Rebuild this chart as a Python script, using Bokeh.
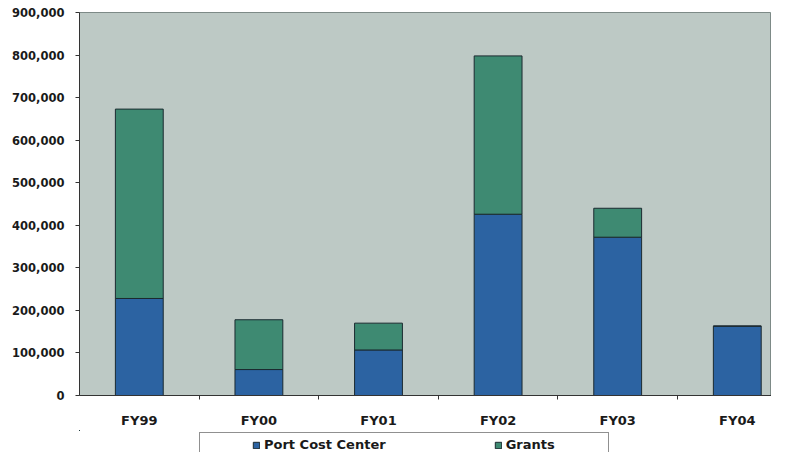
from bokeh.plotting import figure
from bokeh.layouts import column
from bokeh.models import (ColumnDataSource, FixedTicker, NumeralTickFormatter,
                          Legend, LegendItem, Range1d)
from bokeh.embed import file_html
from bokeh.resources import INLINE

years = ["FY99", "FY00", "FY01", "FY02", "FY03", "FY04"]
port_cost_center = [228000, 61000, 107000, 426000, 372000, 163000]
grants = [445000, 117000, 63000, 372000, 68000, 0]
series = ["Port Cost Center", "Grants"]
colors = ["#2c63a2", "#3e8a72"]
y_ticks = [0, 100000, 200000, 300000, 400000, 500000, 600000, 700000, 800000, 900000]

xpos = [i + 0.5 for i in range(len(years))]
source = ColumnDataSource(dict(x=xpos, years=years,
                               pcc=port_cost_center, grants=grants))

FONT = "DejaVu Sans"
TXT = "#1a1a1a"
EDGE = "#1b2a30"

p = figure(width=771, height=430, output_backend="svg", toolbar_location=None,
           x_range=Range1d(0, 5.786), y_range=Range1d(0, 900000),
           min_border_left=79, min_border_top=12, min_border_right=0,
           min_border_bottom=34)

rs = p.vbar_stack(["pcc", "grants"], x="x", width=0.4, source=source,
                  fill_color=colors, line_color=EDGE, line_width=1)

p.background_fill_color = "#bdc9c5"
p.border_fill_color = "white"
p.outline_line_color = "#7d8a87"
p.xgrid.visible = False
p.ygrid.visible = False

# y axis
p.yaxis.ticker = FixedTicker(ticks=y_ticks)
p.yaxis.formatter = NumeralTickFormatter(format="0,0")
p.yaxis.major_label_text_font = FONT
p.yaxis.major_label_text_font_style = "bold"
p.yaxis.major_label_text_font_size = "11.5px"
p.yaxis.major_label_text_color = TXT
p.yaxis.major_tick_in = 0
p.yaxis.major_tick_out = 4
p.yaxis.minor_tick_line_color = None
p.yaxis.major_label_standoff = 11
p.yaxis.axis_line_color = "#333333"
p.yaxis.major_tick_line_color = "#333333"

# x axis
p.xaxis.ticker = FixedTicker(ticks=xpos, minor_ticks=list(range(1, len(years))))
p.xaxis.major_label_overrides = {x: y for x, y in zip(xpos, years)}
p.xaxis.major_label_text_font = FONT
p.xaxis.major_label_text_font_style = "bold"
p.xaxis.major_label_text_font_size = "13px"
p.xaxis.major_label_text_color = TXT
p.xaxis.major_tick_in = 0
p.xaxis.major_tick_out = 0
p.xaxis.minor_tick_in = 0
p.xaxis.minor_tick_out = 4
p.xaxis.minor_tick_line_color = "#333333"
p.xaxis.major_label_standoff = 13
p.xaxis.axis_line_color = "#333333"

# legend strip below the chart (its proxy bars lie far outside its visible ranges)
lg = figure(width=771, height=22, output_backend="svg", toolbar_location=None,
            x_range=Range1d(100, 101), y_range=Range1d(-1000, -999),
            x_axis_location=None, y_axis_location=None,
            min_border=0, min_border_left=0, min_border_right=0,
            min_border_top=0, min_border_bottom=0)
lg.outline_line_color = None
lg.background_fill_color = "white"
lg.border_fill_color = "white"
lg.xgrid.visible = False
lg.ygrid.visible = False
lr = lg.vbar_stack(["pcc", "grants"], x="x", width=0.4, source=source,
                   fill_color=colors, line_color=EDGE, line_width=1)

legend = Legend(items=[LegendItem(label=s, renderers=[r]) for s, r in zip(series, lr)],
                orientation="horizontal", location=(120, -5), margin=0,
                title="\u00a0", title_location="left", title_standoff=34,
                title_text_font_size="12px",
                padding=4, spacing=108, label_standoff=4,
                glyph_width=8, glyph_height=8, label_width=98,
                label_text_font=FONT, label_text_font_style="bold",
                label_text_font_size="13px", label_text_color=TXT,
                border_line_color="#222222", border_line_width=1,
                background_fill_color="white", background_fill_alpha=1)
lg.add_layout(legend, "center")

layout = column(p, lg, spacing=0)
open("out.html", "w").write(file_html(layout, INLINE))
